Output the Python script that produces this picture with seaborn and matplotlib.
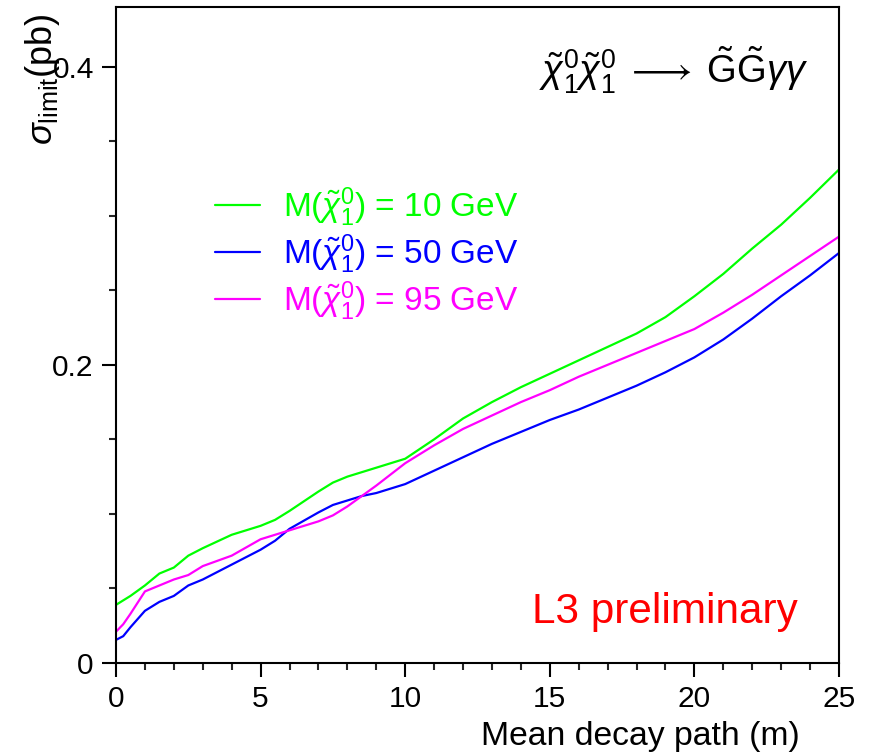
import numpy as np
import pandas as pd
import matplotlib
matplotlib.use("Agg")
import matplotlib.pyplot as plt
from matplotlib.ticker import MultipleLocator
import seaborn as sns

# ---- data ----
path = [0, 0.25, 0.5, 1, 1.5, 2, 2.5, 3, 4, 5, 5.5, 6, 7, 7.5, 8, 8.5, 9, 10,
        11, 12, 13, 14, 15, 16, 17, 18, 19, 20, 21, 22, 23, 24, 25]
sigma_10 = [0.039, 0.042, 0.045, 0.052, 0.060, 0.064, 0.072, 0.077, 0.086, 0.092,
            0.096, 0.102, 0.115, 0.121, 0.125, 0.128, 0.131, 0.137, 0.150, 0.164,
            0.175, 0.185, 0.194, 0.203, 0.212, 0.221, 0.232, 0.246, 0.261, 0.278,
            0.294, 0.312, 0.331]
sigma_50 = [0.0155, 0.018, 0.024, 0.035, 0.041, 0.045, 0.052, 0.056, 0.066, 0.076,
            0.082, 0.090, 0.101, 0.106, 0.109, 0.112, 0.114, 0.120, 0.129, 0.138,
            0.147, 0.155, 0.163, 0.170, 0.178, 0.186, 0.195, 0.205, 0.217, 0.231,
            0.246, 0.260, 0.275]
sigma_95 = [0.021, 0.026, 0.033, 0.048, 0.052, 0.056, 0.059, 0.065, 0.072, 0.083,
            0.086, 0.089, 0.095, 0.099, 0.105, 0.112, 0.119, 0.134, 0.146, 0.157,
            0.166, 0.175, 0.183, 0.192, 0.200, 0.208, 0.216, 0.224, 0.235, 0.247,
            0.260, 0.273, 0.286]
masses = ["10", "50", "95"]
colors = ["#00ff00", "#0000ff", "#ff00ff"]
x_ticks = [0, 5, 10, 15, 20, 25]
y_ticks = [0, 0.2, 0.4]
y_tick_labels = ["0", "0.2", "0.4"]

df = pd.DataFrame({
    "path": path * 3,
    "sigma": sigma_10 + sigma_50 + sigma_95,
    "mass": [masses[0]] * len(path) + [masses[1]] * len(path) + [masses[2]] * len(path),
})

sns.set_theme(style="white")
plt.rcParams["font.family"] = ["Liberation Sans", "DejaVu Sans"]
plt.rcParams["mathtext.fontset"] = "custom"
plt.rcParams["mathtext.rm"] = "Liberation Sans"
plt.rcParams["mathtext.it"] = "Liberation Sans:italic"
plt.rcParams["mathtext.bf"] = "Liberation Sans:bold"

W, H = 871, 752
fig = plt.figure(figsize=(W / 100, H / 100), dpi=100)
ax = fig.add_axes([116 / W, 1 - 663 / H, 723 / W, 656 / H])

sns.lineplot(data=df, x="path", y="sigma", hue="mass", palette=colors,
             linewidth=1.6, ax=ax)

ax.set_xlim(0, 25)
ax.set_ylim(0, 0.44)
ax.set_xticks(x_ticks)
ax.set_xticklabels([str(t) for t in x_ticks])
ax.set_yticks(y_ticks)
ax.set_yticklabels(y_tick_labels)
ax.xaxis.set_minor_locator(MultipleLocator(1))
ax.yaxis.set_minor_locator(MultipleLocator(0.05))
ax.tick_params(axis="both", which="major", direction="out", length=10, width=1.5,
               labelsize=21.5, colors="black", pad=6, bottom=True, left=True)
ax.tick_params(axis="both", which="minor", direction="out", length=5, width=1.5,
               bottom=True, left=True)
for s in ax.spines.values():
    s.set_visible(True)
    s.set_color("black")
    s.set_linewidth(1.5)
ax.set_xlabel("")
ax.set_ylabel("")

handles, labels = ax.get_legend_handles_labels()
new_labels = [r"M($\tilde{\chi}_1^0$) = %s GeV" % m for m in masses]
ax.legend(handles, new_labels, loc="upper left", bbox_to_anchor=(0.137, 0.728),
          frameon=False, fontsize=24, labelcolor="linecolor", handlelength=1.35,
          handletextpad=0.7, labelspacing=0.1, borderpad=0, borderaxespad=0)

fig.text(808 / W, 1 - 83 / H,
         r"$\tilde{\chi}_1^0\tilde{\chi}_1^0\;\longrightarrow\;\tilde{\mathrm{G}}\tilde{\mathrm{G}}\gamma\gamma$",
         ha="right", va="baseline", fontsize=27.5, color="black")
fig.text(532 / W, 1 - 623 / H, "L3 preliminary", ha="left", va="baseline",
         fontsize=30.4, color="#ff0000")
fig.text(800 / W, 1 - 745 / H, "Mean decay path (m)", ha="right", va="baseline",
         fontsize=24.3, color="black")
fig.text(42 / W, 1 - 145 / H, r"$\sigma_{\mathrm{limit}}$(pb)", rotation=90,
         ha="center", va="bottom", fontsize=26, color="black")

fig.savefig("out.png", dpi=100, facecolor="white")
